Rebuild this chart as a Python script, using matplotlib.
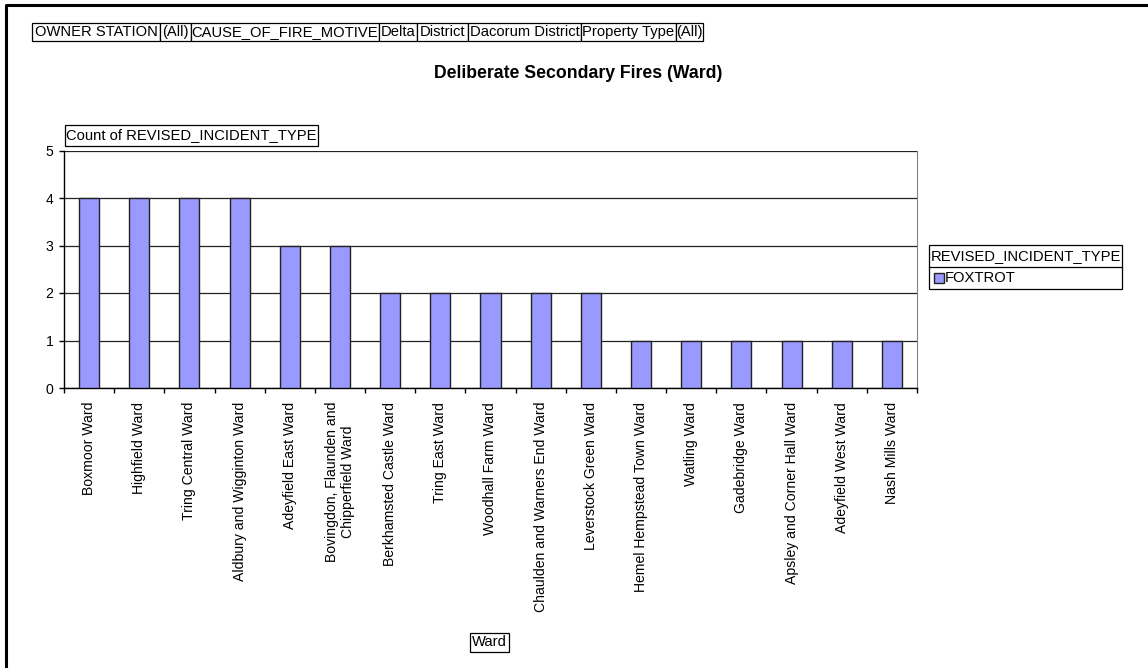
import numpy as np
import matplotlib
matplotlib.use("Agg")
from matplotlib import pyplot as plt
from matplotlib.patches import Rectangle
from matplotlib.lines import Line2D

plt.rcParams['font.family'] = ['Liberation Sans', 'DejaVu Sans']

wards = ["Boxmoor Ward", "Highfield Ward", "Tring Central Ward",
         "Aldbury and Wigginton Ward", "Adeyfield East Ward",
         "Bovingdon, Flaunden and\nChipperfield Ward", "Berkhamsted Castle Ward",
         "Tring East Ward", "Woodhall Farm Ward", "Chaulden and Warners End Ward",
         "Leverstock Green Ward", "Hemel Hempstead Town Ward", "Watling Ward",
         "Gadebridge Ward", "Apsley and Corner Hall Ward", "Adeyfield West Ward",
         "Nash Mills Ward"]
counts = [4, 4, 4, 4, 3, 3, 2, 2, 2, 2, 2, 1, 1, 1, 1, 1, 1]

filter_cells = ["OWNER STATION", "(All)", "CAUSE_OF_FIRE_MOTIVE", "Delta",
                "District", "Dacorum District", "Property Type", "(All)"]
# cell edges in pixels
cell_edges = [32, 160, 191, 379, 417, 468, 581, 676, 703]

W, H = 1148, 668
bar_color = "#9999ff"
fs = 10.1      # tick labels
fs_box = 10.6  # boxed field labels


def fx(px):
    return px / W


def fy(py):
    return 1 - py / H


fig = plt.figure(figsize=(W / 100, H / 100), dpi=100)
ax = fig.add_axes([fx(64), fy(388), fx(917) - fx(64), fy(150.5) - fy(388)])

x = np.arange(len(wards))
ax.bar(x, counts, width=0.4, color=bar_color, edgecolor="#222222", linewidth=1.0, zorder=3)

ax.set_xlim(-0.5, len(wards) - 0.5)
ax.set_ylim(0, 5)
ax.set_yticks(range(0, 6))
ax.yaxis.grid(True, color="#222222", linewidth=0.9, zorder=0)
ax.set_axisbelow(True)

ax.set_xticks(x)
ax.set_xticklabels(wards, rotation=90, va="top", ha="center", multialignment="center", fontsize=fs)
ax.set_xticks(np.arange(-0.5, len(wards), 1.0), minor=True)
ax.tick_params(axis="x", which="major", length=0, pad=10)
ax.tick_params(axis="x", which="minor", length=3.5, width=1, direction="out")
ax.tick_params(axis="y", length=3.5, width=1, direction="out", pad=4, labelsize=fs)

ax.spines["top"].set_visible(False)
ax.spines["right"].set_color("#808080")
ax.spines["left"].set_linewidth(1.0)
ax.spines["bottom"].set_linewidth(1.0)

# title
fig.text(fx(578), fy(73), "Deliberate Secondary Fires (Ward)", ha="center", va="center",
         fontsize=12.7, fontweight="bold")

# filter field bar
for i, label in enumerate(filter_cells):
    x0, x1 = cell_edges[i], cell_edges[i + 1]
    fig.patches.append(Rectangle((fx(x0), fy(41)), fx(x1) - fx(x0), fy(23) - fy(41),
                                 transform=fig.transFigure, facecolor="white",
                                 edgecolor="black", linewidth=0.9))
    fig.text(fx((x0 + x1) / 2), fy(32), label, ha="center", va="center", fontsize=fs_box)

# data field label
fig.patches.append(Rectangle((fx(65), fy(146)), fx(318) - fx(65), fy(125) - fy(146),
                             transform=fig.transFigure, facecolor="white",
                             edgecolor="black", linewidth=0.9, zorder=0))
fig.text(fx(191.5), fy(135.5), "Count of REVISED_INCIDENT_TYPE", ha="center", va="center",
         fontsize=fs_box)

# axis field label
fig.patches.append(Rectangle((fx(470), fy(652)), fx(509) - fx(470), fy(633) - fy(652),
                             transform=fig.transFigure, facecolor="white",
                             edgecolor="black", linewidth=0.9))
fig.text(fx(489.5), fy(642.5), "Ward", ha="center", va="center", fontsize=fs_box)

# legend
fig.patches.append(Rectangle((fx(929), fy(289)), fx(1122) - fx(929), fy(245) - fy(289),
                             transform=fig.transFigure, facecolor="white",
                             edgecolor="black", linewidth=0.9))
fig.lines.append(Line2D([fx(929), fx(1122)], [fy(267.5), fy(267.5)],
                        transform=fig.transFigure, color="black", linewidth=0.9))
fig.text(fx(931), fy(256.5), "REVISED_INCIDENT_TYPE", ha="left", va="center", fontsize=fs_box)
fig.patches.append(Rectangle((fx(934), fy(283)), fx(944) - fx(934), fy(273) - fy(283),
                             transform=fig.transFigure, facecolor=bar_color,
                             edgecolor="#222222", linewidth=1.0))
fig.text(fx(945), fy(278), "FOXTROT", ha="left", va="center", fontsize=fs_box)

# outer chart frame (only top and left visible)
fig.lines.append(Line2D([fx(6), fx(6), fx(W + 5)], [fy(H + 5), fy(4.5), fy(4.5)],
                        transform=fig.transFigure, color="black", linewidth=2.2))

fig.savefig("out.png", dpi=100)
